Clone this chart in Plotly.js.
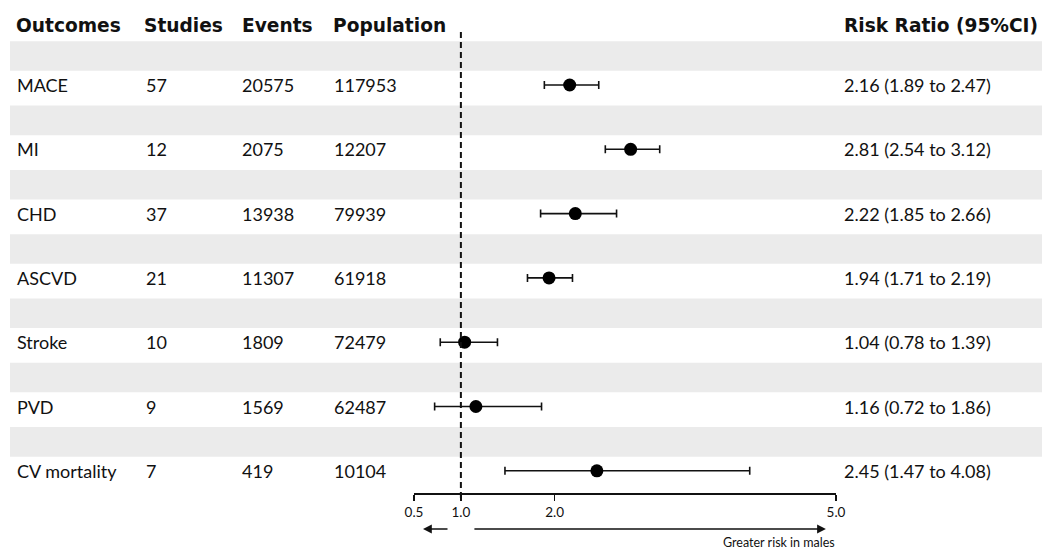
<!DOCTYPE html>
<html>
<head>
<meta charset="utf-8">
<script src="https://cdn.plot.ly/plotly-3.0.1.min.js"></script>
<style>html,body{margin:0;padding:0;background:#fff;}#chart{width:1042px;height:552px;}</style>
</head>
<body>
<div id="chart"></div>
<script>
// ---- data ----
const outcomes = ['MACE', 'MI', 'CHD', 'ASCVD', 'Stroke', 'PVD', 'CV mortality'];
const studies = [57, 12, 37, 21, 10, 9, 7];
const events = [20575, 2075, 13938, 11307, 1809, 1569, 419];
const population = [117953, 12207, 79939, 61918, 72479, 62487, 10104];
const riskRatio = [2.16, 2.81, 2.22, 1.94, 1.04, 1.16, 2.45];
const ciLower = [1.89, 2.54, 1.85, 1.71, 0.78, 0.72, 1.47];
const ciUpper = [2.47, 3.12, 2.66, 2.19, 1.39, 1.86, 4.08];
const headers = ['Outcomes', 'Studies', 'Events', 'Population', 'Risk Ratio (95%CI)'];
const tickVals = [0.5, 1.0, 2.0, 5.0];
const tickText = ['0.5', '1.0', '2.0', '5.0'];
const nullValue = 1.0;
const directionLabel = 'Greater risk in males';

// ---- layout helpers ----
const W = 1042, H = 552;
const rowTop = 85, rowStep = 64.3;           // pixel centre of first row, spacing
const yTopVal = (0 - rowTop) / rowStep;
const yBotVal = (H - rowTop) / rowStep;
const px = v => v / W;
const py = p => 1 - p / H;
const colX = [15, 144, 240, 332, 842];
const headX = [14, 142, 240, 331, 842];
const rows = outcomes.map((_, i) => i);

const bodyFont = {family: 'Lato, "Open Sans", sans-serif', size: 18, color: '#111'};
const headFont = {family: '"DejaVu Sans", sans-serif', size: 18.6, color: '#111', weight: 'bold'};

const annotations = [];
headers.forEach((h, k) => {
  annotations.push({xref: 'paper', yref: 'paper', x: px(headX[k]), y: py(26), xanchor: 'left', yanchor: 'middle',
    text: '<b>' + h + '</b>', showarrow: false, font: headFont});
});
const rrText = riskRatio.map((v, i) => v.toFixed(2) + ' (' + ciLower[i].toFixed(2) + ' to ' + ciUpper[i].toFixed(2) + ')');
rows.forEach(i => {
  const cells = [outcomes[i], String(studies[i]), String(events[i]), String(population[i]), rrText[i]];
  cells.forEach((c, k) => {
    annotations.push({xref: 'paper', yref: 'y', x: px(colX[k]), y: i, xanchor: 'left', yanchor: 'middle',
      text: c, showarrow: false, font: bodyFont});
  });
});
// direction arrows
const axisY = 493;
annotations.push({xref: 'x', yref: 'paper', x: 0.5 + (826 - 414) / 93.8, y: py(529), ax: -(826 - 473), ay: 0,
  axref: 'pixel', ayref: 'pixel', text: '', showarrow: true, arrowhead: 2, arrowsize: 1.1, arrowwidth: 1.6, arrowcolor: '#111'});
annotations.push({xref: 'x', yref: 'paper', x: 0.5 + (423 - 414) / 93.8, y: py(529), ax: 26, ay: 0,
  axref: 'pixel', ayref: 'pixel', text: '', showarrow: true, arrowhead: 2, arrowsize: 1.1, arrowwidth: 1.6, arrowcolor: '#111'});
annotations.push({xref: 'x', yref: 'paper', x: 5.0, y: py(551), xanchor: 'right', yanchor: 'bottom',
  text: directionLabel, showarrow: false, borderpad: 0, font: {family: 'Lato, sans-serif', size: 12.5, color: '#111'}});

const shapes = [];
rows.forEach(i => {
  shapes.push({type: 'rect', layer: 'below', xref: 'paper', yref: 'y', x0: px(10), x1: 1,
    y0: i - 0.68, y1: i - 0.22, fillcolor: '#ebebeb', line: {width: 0}});
});
shapes.push({type: 'line', xref: 'x', yref: 'paper', x0: nullValue, x1: nullValue, y0: py(32), y1: py(500),
  line: {color: '#111', width: 2, dash: '6px,4px'}});

const trace = {
  type: 'scatter', mode: 'markers', x: riskRatio, y: rows,
  marker: {color: '#000', size: 13, symbol: 'circle'},
  error_x: {type: 'data', symmetric: false,
    array: riskRatio.map((v, i) => ciUpper[i] - v),
    arrayminus: riskRatio.map((v, i) => v - ciLower[i]),
    color: '#111', thickness: 1.6, width: 4},
  hoverinfo: 'skip', showlegend: false
};

const layout = {
  width: W, height: H, margin: {l: 0, r: 0, t: 0, b: 0},
  paper_bgcolor: '#fff', plot_bgcolor: 'rgba(0,0,0,0)',
  xaxis: {domain: [px(414), px(836)], range: [0.5, 5.0], anchor: 'free', position: py(axisY),
    showline: true, linecolor: '#111', linewidth: 1.6, ticks: 'outside', ticklen: 6, tickwidth: 1.6, tickcolor: '#111',
    tickvals: tickVals, ticktext: tickText, showgrid: false, zeroline: false, fixedrange: true,
    tickfont: {family: 'Lato, sans-serif', size: 13.5, color: '#111'}},
  yaxis: {domain: [0, 1], range: [yBotVal, yTopVal], visible: false, fixedrange: true},
  shapes: shapes, annotations: annotations
};

Plotly.newPlot('chart', [trace], layout, {staticPlot: true, displayModeBar: false});
</script>
</body>
</html>
